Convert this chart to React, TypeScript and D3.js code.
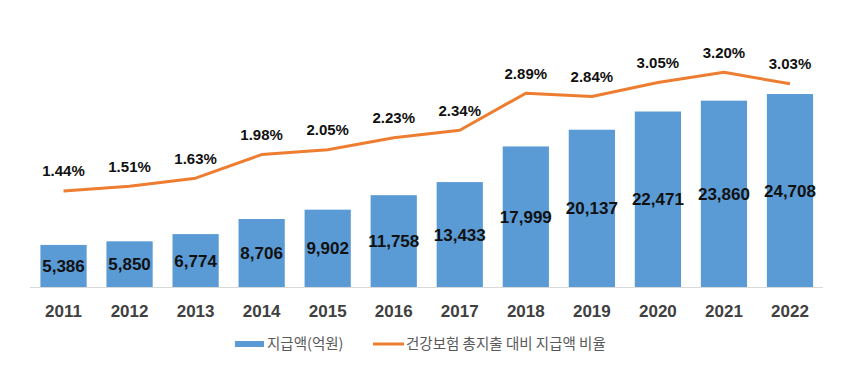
import React, { useEffect, useRef } from 'react';
import * as d3 from 'd3';

const years = ['2011', '2012', '2013', '2014', '2015', '2016', '2017', '2018', '2019', '2020', '2021', '2022'];
const amounts = [5386, 5850, 6774, 8706, 9902, 11758, 13433, 17999, 20137, 22471, 23860, 24708];
const ratios = [1.44, 1.51, 1.63, 1.98, 2.05, 2.23, 2.34, 2.89, 2.84, 3.05, 3.2, 3.03];
const barLegend = '지급액(억원)';
const lineLegend = '건강보험 총지출 대비 지급액 비율';

const width = 851;
const height = 365;

const App = () => {
  const ref = useRef<SVGSVGElement | null>(null);

  useEffect(() => {
    if (!ref.current) return;
    const svg = d3.select(ref.current);
    svg.selectAll('*').remove();

    const numFont = '"Liberation Sans", Arial, sans-serif';
    const krFont = '"Noto Sans CJK KR", "Noto Sans", sans-serif';
    const baseY = 287;

    const x = d3.scaleBand<string>()
      .domain(years)
      .range([30.5, 823])
      .paddingInner(0.3)
      .paddingOuter(0.15);

    const yBar = d3.scaleLinear().domain([0, 30000]).range([baseY, baseY - 234.3]);
    const yLine = d3.scaleLinear().domain([0, 3.5]).range([baseY + 1, baseY + 1 - 235.9]);

    // bars
    svg.append('g')
      .selectAll('rect')
      .data(amounts)
      .enter().append('rect')
      .attr('x', (d, i) => x(years[i])!)
      .attr('y', d => yBar(d))
      .attr('width', x.bandwidth())
      .attr('height', d => baseY - yBar(d))
      .attr('fill', '#5B9BD5');

    // axis line
    svg.append('line')
      .attr('x1', 30).attr('x2', 823)
      .attr('y1', baseY + 0.5).attr('y2', baseY + 0.5)
      .attr('stroke', '#D9D9D9')
      .attr('stroke-width', 1);

    // bar labels
    svg.append('g')
      .selectAll('text')
      .data(amounts)
      .enter().append('text')
      .attr('x', (d, i) => x(years[i])! + x.bandwidth() / 2)
      .attr('y', d => (yBar(d) + baseY) / 2)
      .attr('dy', '0.36em')
      .attr('text-anchor', 'middle')
      .style('font-family', numFont)
      .style('font-weight', 'bold')
      .style('font-size', '17px')
      .style('fill', '#111')
      .text(d => d3.format(',')(d));

    // line
    const line = d3.line<number>()
      .x((d, i) => x(years[i])! + x.bandwidth() / 2)
      .y(d => yLine(d));

    svg.append('path')
      .datum(ratios)
      .attr('d', line)
      .attr('fill', 'none')
      .attr('stroke', '#ED7D31')
      .attr('stroke-width', 3)
      .attr('stroke-linejoin', 'round');

    // line labels
    svg.append('g')
      .selectAll('text')
      .data(ratios)
      .enter().append('text')
      .attr('x', (d, i) => x(years[i])! + x.bandwidth() / 2)
      .attr('y', d => yLine(d) - 20)
      .attr('dy', '0.36em')
      .attr('text-anchor', 'middle')
      .style('font-family', numFont)
      .style('font-weight', 'bold')
      .style('font-size', '15px')
      .style('fill', '#111')
      .text(d => d.toFixed(2) + '%');

    // x axis labels
    svg.append('g')
      .selectAll('text')
      .data(years)
      .enter().append('text')
      .attr('x', d => x(d)! + x.bandwidth() / 2)
      .attr('y', 311)
      .attr('dy', '0.36em')
      .attr('text-anchor', 'middle')
      .style('font-family', numFont)
      .style('font-weight', 'bold')
      .style('font-size', '17px')
      .style('fill', '#404040')
      .text(d => d);

    // legend
    const lg = svg.append('g');
    lg.append('rect')
      .attr('x', 235).attr('y', 341)
      .attr('width', 29).attr('height', 6)
      .attr('fill', '#5B9BD5');
    lg.append('text')
      .attr('x', 267).attr('y', 344)
      .attr('dy', '0.36em')
      .style('font-family', krFont)
      .style('font-size', '14.5px')
      .style('fill', '#595959')
      .text(barLegend);
    lg.append('line')
      .attr('x1', 373).attr('x2', 404)
      .attr('y1', 344).attr('y2', 344)
      .attr('stroke', '#ED7D31')
      .attr('stroke-width', 3);
    lg.append('text')
      .attr('x', 406).attr('y', 344)
      .attr('dy', '0.36em')
      .style('font-family', krFont)
      .style('font-size', '14.5px')
      .style('fill', '#595959')
      .text(lineLegend);
  }, []);

  return (
    <svg
      ref={ref}
      width={width}
      height={height}
      style={{ position: 'absolute', left: 0, top: 0, background: '#fff' }}
    ></svg>
  );
};

export default App;
